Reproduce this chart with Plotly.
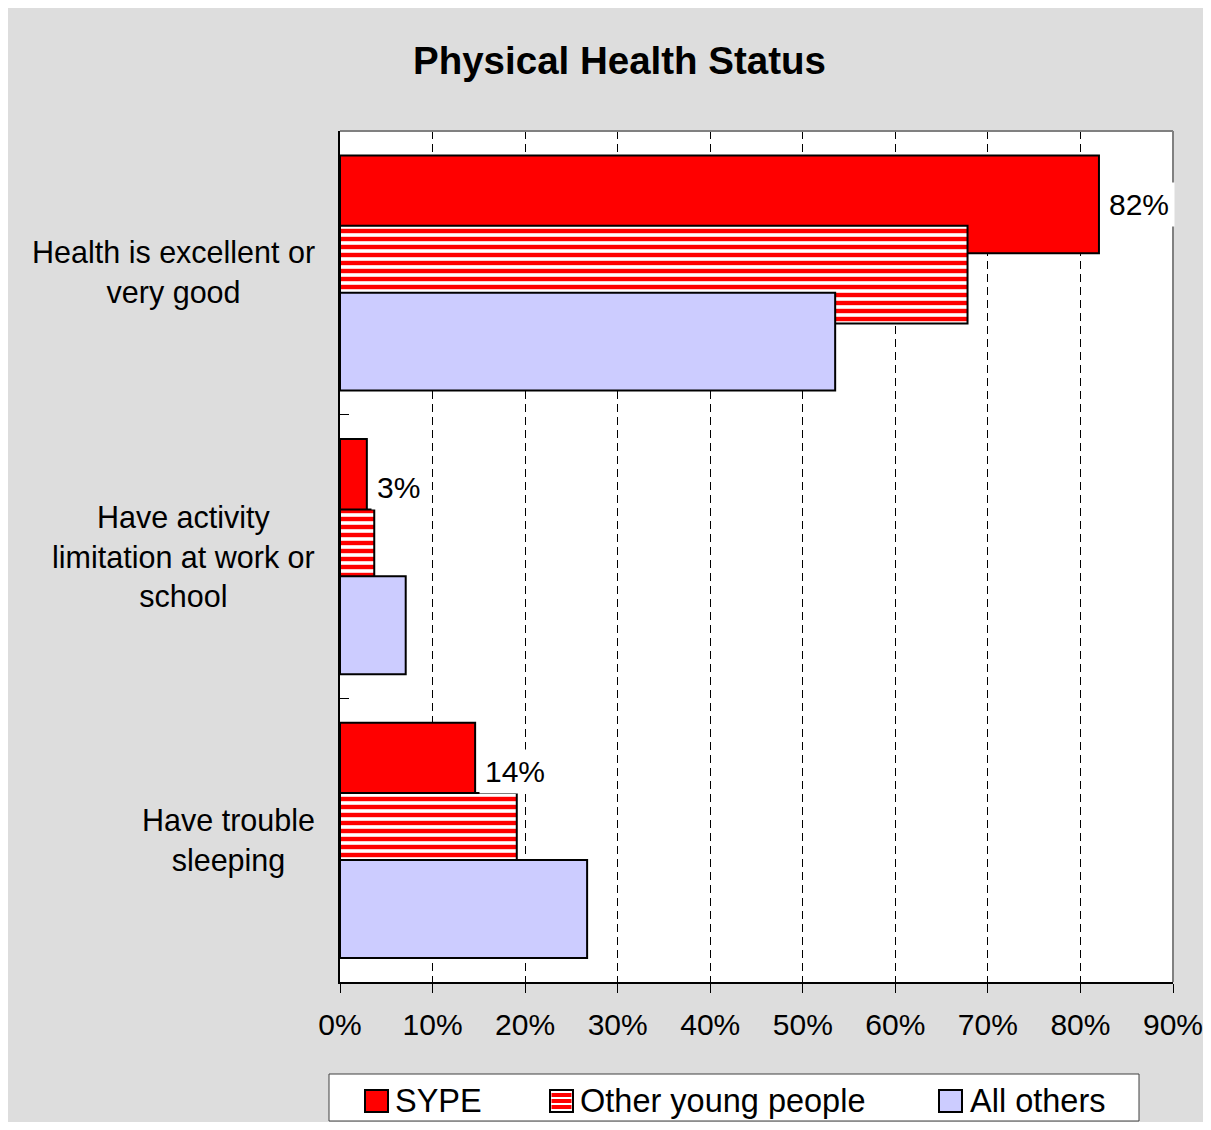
import plotly.graph_objects as go

# ---------------- data ----------------
categories = [
    "Health is excellent or<br>very good",
    "Have activity<br>limitation at work or<br>school",
    "Have trouble<br>sleeping",
]
series_names = ["SYPE", "Other young people", "All others"]
sype = [82.0, 2.9, 14.6]
other_young = [67.8, 3.7, 19.1]
all_others = [53.5, 7.1, 26.7]
sype_labels = ["82%", "3%", "14%"]
x_tick_vals = [0, 10, 20, 30, 40, 50, 60, 70, 80, 90]
x_tick_text = ["0%", "10%", "20%", "30%", "40%", "50%", "60%", "70%", "80%", "90%"]
title_text = "Physical Health Status"

# ---------------- layout geometry ----------------
OFF = 8  # page body margin
W, H = 1211 - 2 * OFF, 1130 - 2 * OFF
L, T = 340 - OFF, 131 - OFF
PW, PH = 833, 851
R = W - L - PW
B = H - T - PH


def fx(x):
    """page x (reference pixel) -> paper fraction"""
    return (x - OFF - L) / PW


def fy(y):
    """page y (reference pixel) -> paper fraction"""
    return (T + PH - (y - OFF)) / PH


FONT = "Arial, 'Liberation Sans', sans-serif"
RED = "#ff0000"
LAV = "#ccccff"
GRAY_BG = "#dddddd"

bar_width = 0.345
offsets = [-0.414, -0.166, 0.070]

fig = go.Figure()
fig.add_trace(go.Bar(
    y=categories, x=sype, orientation="h", name=series_names[0],
    width=bar_width, offset=offsets[0],
    marker=dict(color=RED, line=dict(color="black", width=2)),
    showlegend=False, hoverinfo="x+name",
))
fig.add_trace(go.Bar(
    y=categories, x=other_young, orientation="h", name=series_names[1],
    width=bar_width, offset=offsets[1],
    marker=dict(color="white",
                pattern=dict(shape="-", fgcolor=RED, bgcolor="white",
                             size=8, solidity=0.55, fillmode="replace"),
                line=dict(color="black", width=2)),
    showlegend=False, hoverinfo="x+name",
))
fig.add_trace(go.Bar(
    y=categories, x=all_others, orientation="h", name=series_names[2],
    width=bar_width, offset=offsets[2],
    marker=dict(color=LAV, line=dict(color="black", width=2)),
    showlegend=False, hoverinfo="x+name",
))

annotations = []
# data labels for SYPE
for i, (v, t) in enumerate(zip(sype, sype_labels)):
    annotations.append(dict(
        x=v, y=i + offsets[0] + bar_width / 2, xref="x", yref="y",
        text=t, showarrow=False, xanchor="left", yanchor="middle",
        xshift=4, bgcolor="white", borderpad=5,
        font=dict(family=FONT, size=30, color="black"),
    ))
# category labels (centered multi-line)
for i, c in enumerate(categories):
    annotations.append(dict(
        x=0, y=i, xref="paper", yref="y", text=c, showarrow=False,
        xanchor="right", yanchor="middle", align="center", xshift=-23,
        font=dict(family=FONT, size=30.5, color="black"),
    ))
# legend texts
legend_text_x = [395, 580, 970]
LEG_CY = 1101
for name, lx in zip(series_names, legend_text_x):
    annotations.append(dict(
        x=fx(lx), y=fy(LEG_CY), xref="paper", yref="paper", text=name,
        showarrow=False, xanchor="left", yanchor="middle", xshift=-2,
        font=dict(family=FONT, size=32.5, color="black"),
    ))

shapes = [
    # top and right plot border
    dict(type="line", xref="paper", yref="paper", x0=0, x1=1, y0=1, y1=1,
         line=dict(color="#808080", width=2), layer="above"),
    dict(type="line", xref="paper", yref="paper", x0=1, x1=1, y0=0, y1=1,
         line=dict(color="#808080", width=2), layer="above"),
    # legend box
    dict(type="rect", xref="paper", yref="paper", x0=fx(329), x1=fx(1139),
         y0=fy(1121), y1=fy(1074), fillcolor="white",
         line=dict(color="#404040", width=1), layer="above"),
]
# legend symbols
sym_x = [365, 550, 939]
sym_fill = [RED, "white", LAV]
for sx, fc in zip(sym_x, sym_fill):
    shapes.append(dict(type="rect", xref="paper", yref="paper",
                       x0=fx(sx), x1=fx(sx + 23),
                       y0=fy(LEG_CY + 11), y1=fy(LEG_CY - 11),
                       fillcolor=fc, line=dict(color="black", width=2), layer="above"))
for d in [-8, -2, 4]:
    shapes.append(dict(type="rect", xref="paper", yref="paper",
                       x0=fx(sym_x[1] + 1.5), x1=fx(sym_x[1] + 21.5),
                       y0=fy(LEG_CY + d + 4), y1=fy(LEG_CY + d), fillcolor=RED,
                       line=dict(width=0), layer="above"))

fig.update_layout(
    width=W, height=H,
    margin=dict(l=L, r=R, t=T, b=B, pad=0, autoexpand=False),
    paper_bgcolor=GRAY_BG, plot_bgcolor="white",
    barmode="overlay",
    showlegend=False,
    font=dict(family=FONT, size=30, color="black"),
    title=dict(text=title_text, x=(619.5 - OFF) / W, xref="container", xanchor="center",
               y=1 - (61 - OFF) / H, yref="container", yanchor="middle",
               font=dict(family=FONT, size=38.5, color="black", weight="bold")),
    xaxis=dict(
        range=[0, 90], tickvals=x_tick_vals, ticktext=x_tick_text,
        ticks="outside", ticklen=9, tickwidth=1, tickcolor="black",
        showgrid=True, gridcolor="black", gridwidth=1, griddash="8px,5px",
        showline=True, linecolor="black", linewidth=2, zeroline=False,
        tickfont=dict(family=FONT, size=30, color="black"),
        ticklabelstandoff=6, ticklabeloverflow="allow", automargin=False,
        fixedrange=True,
    ),
    yaxis=dict(
        type="category", categoryorder="array", categoryarray=categories,
        range=[2.5, -0.5], showticklabels=False,
        ticks="inside", tickson="boundaries", ticklen=9, tickcolor="black",
        showgrid=False, showline=True, linecolor="black", linewidth=2,
        zeroline=False, automargin=False, fixedrange=True,
    ),
    annotations=annotations,
    shapes=shapes,
)

fig.write_html("out.html")
